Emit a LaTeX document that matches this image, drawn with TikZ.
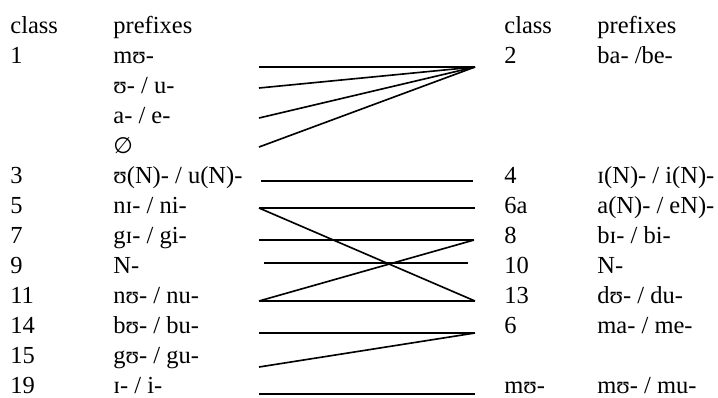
\documentclass[tikz,border=0pt]{standalone}
\usepackage{fontspec}
\setmainfont{Liberation Serif}
\newfontfamily\symfont{DejaVu Sans}
\usetikzlibrary{positioning}

\begin{document}
\begin{tikzpicture}[
    x=0.49pt, y=-0.49pt,
    cell/.style={anchor=base west, inner sep=0pt, font=\fontsize{12}{14}\selectfont},
    link/.style={line width=0.8pt, black},
  ]
    \useasboundingbox (0,0) rectangle (718,397);
    % left table
    \foreach \k/\cl/\pf in {0/class/prefixes, 1/1/mʊ-, 2/{}/{ʊ- / u-}, 3/{}/{a- / e-},
        4/{}/{{\symfont\fontsize{11}{13}\selectfont ∅}}, 5/3/{ʊ(N)- / u(N)-}, 6/5/{nɪ- / ni-}, 7/7/{gɪ- / gi-},
        8/9/N-, 9/11/{nʊ- / nu-}, 10/14/{bʊ- / bu-}, 11/15/{gʊ- / gu-}, 12/19/{ɪ- / i-}} {
      \node[cell] (lc\k) at (10,{33+30*\k}) {\cl};
      \node[cell] (lp\k) at (113,{33+30*\k}) {\pf};
    }
    % right table
    \foreach \k/\cl/\pf in {0/class/prefixes, 1/2/{ba- /be-}, 5/4/{ɪ(N)- / i(N)-},
        6/6a/{a(N)- / eN)-}, 7/8/{bɪ- / bi-}, 8/10/N-, 9/13/{dʊ- / du-},
        10/6/{ma- / me-}, 12/mʊ-/{mʊ- / mu-}} {
      \node[cell] (rc\k) at (504,{33+30*\k}) {\cl};
      \node[cell] (rp\k) at (597,{33+30*\k}) {\pf};
    }
    % line ends
    \coordinate (s1a) at (259,67);
    \coordinate (s1b) at (259,88);
    \coordinate (s1c) at (259,118);
    \coordinate (s1d) at (259,147);
    \coordinate (s3) at (261,181);
    \coordinate (s5) at (259,208);
    \coordinate (s7) at (259,240);
    \coordinate (s9) at (264,263);
    \coordinate (s11) at (259,301);
    \coordinate (s14) at (259,333);
    \coordinate (s15) at (259,367);
    \coordinate (s19) at (259,394);
    \coordinate (t2) at (475,67);
    \coordinate (t4) at (473,181);
    \coordinate (t6a) at (475,208);
    \coordinate (t8) at (474,240);
    \coordinate (t10) at (468,263);
    \coordinate (t13) at (475,301);
    \coordinate (t6) at (475,333);
    \coordinate (tmu) at (475,394);
    \foreach \s in {s1a,s1b,s1c,s1d} { \draw[link] (\s) -- (t2); }
    \draw[link] (s3) -- (t4);
    \draw[link] (s5) -- (t6a);
    \draw[link] (s5) -- (t13);
    \draw[link] (s7) -- (t8);
    \draw[link] (s9) -- (t10);
    \draw[link] (s11) -- (t8);
    \draw[link] (s11) -- (t13);
    \draw[link] (s14) -- (t6);
    \draw[link] (s15) -- (t6);
    \draw[link] (s19) -- (tmu);
  \end{tikzpicture}
\end{document}
